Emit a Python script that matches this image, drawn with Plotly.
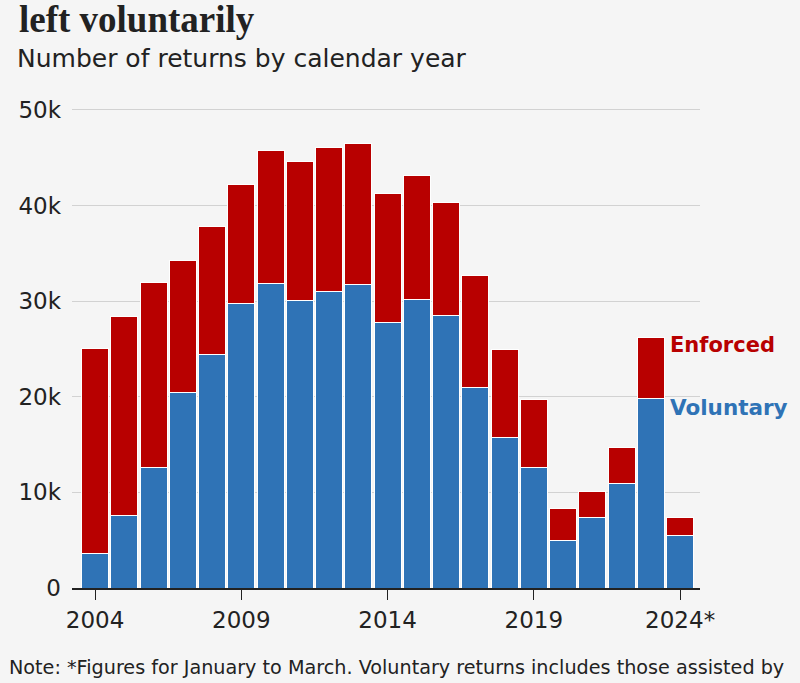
import plotly.graph_objects as go

# Returns by calendar year (2024 = January to March only)
years = list(range(2004, 2025))
totals = [25000, 28400, 32000, 34300, 37800, 42200, 45700, 44600, 46100, 46500, 41300,
          43100, 40300, 32700, 24900, 19700, 8300, 10100, 14700, 26200, 7400]
voluntary = [3600, 7600, 12600, 20400, 24400, 29800, 31800, 30100, 31000, 31700, 27800,
             30200, 28500, 21000, 15700, 12600, 5000, 7350, 10950, 19800, 5500]
enforced = [t - v for t, v in zip(totals, voluntary)]

x_tickvals = [2004, 2009, 2014, 2019, 2024]
x_ticktext = ["2004", "2009", "2014", "2019", "2024*"]
y_tickvals = [0, 10000, 20000, 30000, 40000, 50000]
y_ticktext = ["0", "10k", "20k", "30k", "40k", "50k"]

RED = "#b80000"
BLUE = "#2f73b6"
BG = "#f5f5f5"
INK = "#222222"
FONT = "DejaVu Sans"

fig = go.Figure()
fig.add_trace(go.Bar(x=years, y=voluntary, name="Voluntary",
                     marker=dict(color=BLUE, line=dict(color="white", width=1))))
fig.add_trace(go.Bar(x=years, y=enforced, name="Enforced",
                     marker=dict(color=RED, line=dict(color="white", width=1))))

fig.update_layout(
    barmode="stack",
    bargap=0.07,
    width=800, height=683,
    margin=dict(l=72, r=100, t=107, b=95),
    paper_bgcolor=BG, plot_bgcolor=BG,
    showlegend=False,
    font=dict(family=FONT, color=INK, size=23),
)

fig.update_xaxes(
    range=[2003.21, 2024.68],
    tickvals=x_tickvals, ticktext=x_ticktext,
    showgrid=False, showline=True, linecolor=INK, linewidth=2,
    ticks="outside", ticklen=10, tickcolor=INK, tickwidth=1,
    tickfont=dict(size=23, color=INK),
)
fig.update_yaxes(
    range=[0, 50300],
    tickvals=y_tickvals, ticktext=y_ticktext,
    showgrid=True, gridcolor="#d2d2d2", gridwidth=1,
    zeroline=False, ticks="", ticklabelstandoff=10,
    tickfont=dict(size=23, color=INK),
)

# Title, subtitle and note (paper y: 0 = x axis at 588px, 1 = 50k line at 110px)
fig.add_annotation(text="<b>left voluntarily</b>", xref="paper", yref="paper",
                   x=-0.088, y=1.182, xanchor="left", yanchor="middle", showarrow=False,
                   font=dict(family="Liberation Serif", size=37, color=INK))
fig.add_annotation(text="Number of returns by calendar year", xref="paper", yref="paper",
                   x=-0.091, y=1.101, xanchor="left", yanchor="middle", showarrow=False,
                   font=dict(family=FONT, size=25, color=INK))
fig.add_annotation(text="Note: *Figures for January to March. Voluntary returns includes those assisted by",
                   xref="paper", yref="paper",
                   x=-0.1035, y=-0.165, xanchor="left", yanchor="middle", showarrow=False,
                   font=dict(family=FONT, size=19.2, color=INK))

# Direct labels for the series
fig.add_annotation(text="<b>Enforced</b>", x=2023.6, y=25400, xanchor="left", yanchor="middle",
                   showarrow=False, font=dict(family=FONT, size=21, color=RED))
fig.add_annotation(text="<b>Voluntary</b>", x=2023.6, y=18900, xanchor="left", yanchor="middle",
                   showarrow=False, font=dict(family=FONT, size=21.5, color=BLUE))

# drop the default page margin so the chart sits at the window's corner
fig.write_html("out.html", config={"displayModeBar": False},
               post_script="document.body.style.margin='0px';")
